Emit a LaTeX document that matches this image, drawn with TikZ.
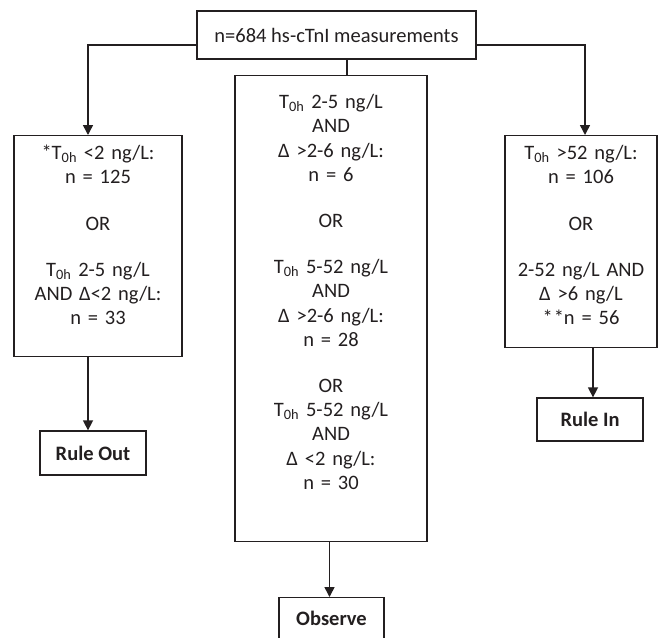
\documentclass[tikz,border=0pt]{standalone}
\usepackage{fontspec}
\setmainfont{Carlito}
\usetikzlibrary{arrows.meta}
\definecolor{ink}{HTML}{231F20}
\newcommand{\Toh}{T\textsubscript{0h}}
\begin{document}
\begin{tikzpicture}[x=1pt,y=-1pt,
  box/.style={draw=ink, line width=1.3pt, inner sep=0pt, align=center, text=ink,
    font=\fontsize{20.5}{24.2}\selectfont},
  tallbox/.style={box, anchor=north},
  endbox/.style={box, font=\fontsize{20.5}{24.2}\selectfont\bfseries, minimum width=106pt, minimum height=44pt},
  conn/.style={draw=ink, line width=1.5pt},
  arr/.style={conn, -{Triangle[width=10pt,length=10pt]}}]
\clip (0,0) rectangle (658,637);
\fill[white] (0,0) rectangle (658,637);

\node[box, minimum width=279pt, minimum height=48pt] (top) at (336.5,35) {n=684 hs-cTnI measurements};

\node[tallbox, text width=168pt, text height=24pt, text depth=197pt] (lbox) at (98,135)
  {*\Toh{} <2 ng/L:\\ n = 125\\[22pt] OR\\[22pt] \Toh{} 2-5 ng/L\\ AND Δ<2 ng/L:\\ n = 33};

\node[tallbox, text width=192pt, text height=33pt, text depth=433pt] (mbox) at (331,75)
  {\Toh{} 2-5 ng/L\\ AND\\ Δ >2-6 ng/L:\\ n = 6\\[22pt] OR\\[22pt] \Toh{} 5-52 ng/L\\ AND\\ Δ >2-6 ng/L:\\ n = 28\\[22pt] OR\\ \Toh{} 5-52 ng/L\\ AND\\ Δ <2 ng/L:\\ n = 30};

\node[tallbox, text width=152pt, text height=24pt, text depth=188pt] (rbox) at (581,135)
  {\Toh{} >52 ng/L:\\ n = 106\\[22pt] OR\\[22pt] 2-52 ng/L AND\\ Δ >6 ng/L\\ {*}\kern1pt{*}n = 56};

\node[endbox] (rout) at (93,453) {Rule Out};
\node[endbox, minimum height=43pt] (rin) at (590,419.5) {Rule In};
\node[endbox, minimum width=105pt, anchor=north] (obs) at (331.5,597) {Observe\vphantom{g}};

\draw[arr] ([yshift=-10pt]top.west) -| ([xshift=-10pt]lbox.north);
\draw[arr] ([yshift=-10pt]top.east) -| ([xshift=4pt]rbox.north);
\draw[conn] ([xshift=10.5pt]top.south) -- ([xshift=10.5pt]top.south |- mbox.north);
\draw[arr] ([xshift=-10pt]lbox.south) -- ([xshift=-10pt]lbox.south |- rout.north);
\draw[arr] ([xshift=-1.5pt]mbox.south) -- ([xshift=-1.5pt]mbox.south |- obs.north);
\draw[arr] ([xshift=12pt]rbox.south) -- ([xshift=12pt]rbox.south |- rin.north);
\end{tikzpicture}
\end{document}
